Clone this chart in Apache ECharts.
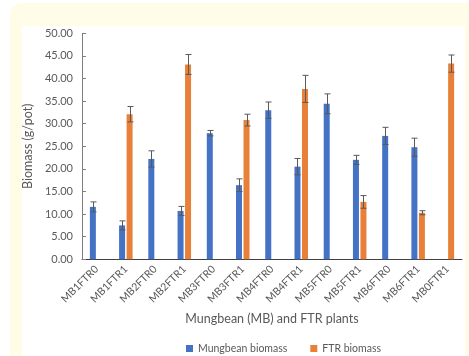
<!DOCTYPE html>
<html>
<head>
<meta charset="utf-8">
<script src="https://cdn.jsdelivr.net/npm/echarts@6/dist/echarts.min.js"></script>
<style>
  html, body { margin: 0; padding: 0; background: #ffffff; }
  #chart { width: 469px; height: 356px; }
</style>
</head>
<body>
<div id="chart"></div>
<script>
// Treatment groups along the x axis
var categories = ['MB1FTR0', 'MB1FTR1', 'MB2FTR0', 'MB2FTR1', 'MB3FTR0', 'MB3FTR1', 'MB4FTR0',
                  'MB4FTR1', 'MB5FTR0', 'MB5FTR1', 'MB6FTR0', 'MB6FTR1', 'MB0FTR1'];

// Mean biomass (g/pot); null where the plant was not grown
var mungbeanBiomass = [11.6, 7.5, 22.2, 10.7, 27.9, 16.4, 33.0, 20.5, 34.4, 22.0, 27.3, 24.8, null];
var ftrBiomass      = [null, 32.1, null, 43.1, null, 30.8, null, 37.7, null, 12.7, null, 10.3, 43.3];

// Standard errors
var mungbeanError = [1.1, 1.0, 1.8, 1.0, 0.6, 1.4, 1.8, 1.8, 2.2, 1.0, 1.9, 2.0, null];
var ftrError      = [null, 1.7, null, 2.2, null, 1.3, null, 3.0, null, 1.4, null, 0.45, 1.9];

// Y axis ticks
var yTicks = { min: 0, max: 50, step: 5 };

var BAR_W = 6;
var BAR_GAP = 0.25;
var halfSpan = (BAR_W * 2 + BAR_W * BAR_GAP) / 2;
var blueOffset = -halfSpan + BAR_W / 2;
var orangeOffset = halfSpan - BAR_W / 2;

function toBarData(arr) {
  return arr.map(function (v) { return v === null ? '-' : v; });
}
function toErrData(vals, errs) {
  var out = [];
  vals.forEach(function (v, i) {
    if (v !== null && errs[i] !== null) out.push([i, v - errs[i], v + errs[i]]);
  });
  return out;
}
function errorRenderer(offset) {
  return function (params, api) {
    var idx = api.value(0);
    var lo = api.coord([idx, api.value(1)]);
    var hi = api.coord([idx, api.value(2)]);
    var x = Math.round(lo[0] + offset) + 0.5;
    var cap = 3;
    var style = { stroke: '#595959', lineWidth: 1 };
    return {
      type: 'group',
      children: [
        { type: 'line', shape: { x1: x, y1: lo[1], x2: x, y2: hi[1] }, style: style },
        { type: 'line', shape: { x1: x - cap, y1: hi[1], x2: x + cap, y2: hi[1] }, style: style },
        { type: 'line', shape: { x1: x - cap, y1: lo[1], x2: x + cap, y2: lo[1] }, style: style }
      ]
    };
  };
}

var chart = echarts.init(document.getElementById('chart'), null, { renderer: 'canvas' });

var textColor = '#595959';
var fontFamily = 'Lato, "Open Sans", sans-serif';

chart.setOption({
  backgroundColor: '#ffffff',
  animation: false,
  textStyle: { fontFamily: fontFamily },
  graphic: [
    { type: 'rect', z: -10, silent: true,
      shape: { x: 10, y: 3, width: 480, height: 380, r: 12 },
      style: { fill: '#FFFCE8' } },
    { type: 'rect', z: -9, silent: true,
      shape: { x: 22, y: 26, width: 443, height: 340 },
      style: { fill: '#ffffff' } }
  ],
  grid: { left: 82, right: 7, top: 33.3, bottom: 96.7, containLabel: false },
  legend: {
    bottom: 2,
    left: 186,
    padding: 0,
    itemWidth: 7,
    itemHeight: 7,
    itemGap: 23,
    icon: 'rect',
    textStyle: { color: textColor, fontSize: 10.5, fontFamily: fontFamily },
    data: ['Mungbean biomass', 'FTR biomass']
  },
  xAxis: {
    type: 'category',
    data: categories,
    name: 'Mungbean (MB) and FTR plants',
    nameLocation: 'middle',
    nameGap: 53,
    nameTextStyle: { color: textColor, fontSize: 12.5, fontFamily: fontFamily },
    axisLine: { lineStyle: { color: '#404040', width: 1 } },
    axisTick: { show: false },
    axisLabel: { rotate: 45, color: textColor, fontSize: 10.5, margin: 8, interval: 0, fontFamily: fontFamily }
  },
  yAxis: {
    type: 'value',
    min: yTicks.min,
    max: yTicks.max,
    interval: yTicks.step,
    name: 'Biomass (g/pot)',
    nameLocation: 'middle',
    nameGap: 41,
    nameTextStyle: { color: textColor, fontSize: 12.5, fontFamily: fontFamily },
    axisLine: { show: true, lineStyle: { color: '#7f7f7f', width: 1 } },
    axisTick: { show: true, inside: true, length: 4, lineStyle: { color: '#7f7f7f' } },
    splitLine: { show: false },
    axisLabel: {
      color: textColor, fontSize: 11, margin: 9, fontFamily: fontFamily,
      formatter: function (v) { return v.toFixed(2); }
    }
  },
  series: [
    {
      name: 'Mungbean biomass',
      type: 'bar',
      data: toBarData(mungbeanBiomass),
      barWidth: BAR_W,
      barGap: (BAR_GAP * 100) + '%',
      itemStyle: { color: '#4472C4' }
    },
    {
      name: 'FTR biomass',
      type: 'bar',
      data: toBarData(ftrBiomass),
      barWidth: BAR_W,
      barGap: (BAR_GAP * 100) + '%',
      itemStyle: { color: '#E8803A' }
    },
    {
      type: 'custom',
      name: 'Mungbean error',
      renderItem: errorRenderer(blueOffset),
      data: toErrData(mungbeanBiomass, mungbeanError),
      encode: { x: 0, y: [1, 2] },
      z: 5,
      silent: true
    },
    {
      type: 'custom',
      name: 'FTR error',
      renderItem: errorRenderer(orangeOffset),
      data: toErrData(ftrBiomass, ftrError),
      encode: { x: 0, y: [1, 2] },
      z: 5,
      silent: true
    }
  ]
});
</script>
</body>
</html>
